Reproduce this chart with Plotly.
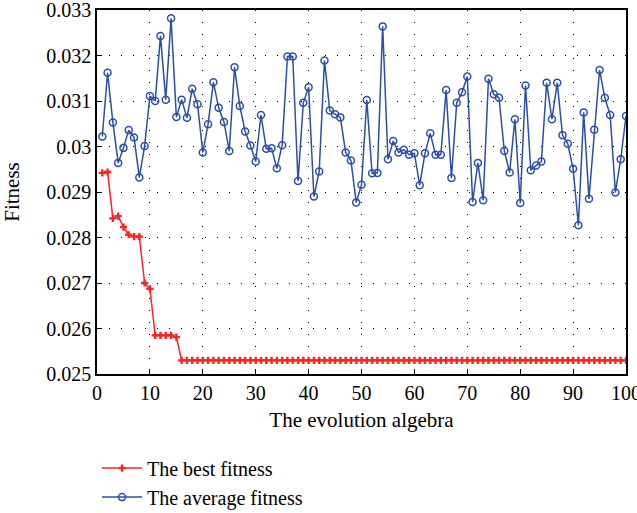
import plotly.graph_objects as go

generations = list(range(1, 101))

best_fitness = [0.02942, 0.02944, 0.02842, 0.02847, 0.02823, 0.02806, 0.02802, 0.02802,
                0.02700, 0.02687, 0.02585, 0.02585, 0.02585, 0.02585, 0.02581] + [0.02530] * 85

average_fitness = [
    0.03022, 0.03162, 0.03053, 0.02964, 0.02997, 0.03036, 0.03020, 0.02932, 0.03001, 0.03111,
    0.03100, 0.03243, 0.03103, 0.03282, 0.03065, 0.03103, 0.03063, 0.03127, 0.03093, 0.02987,
    0.03049, 0.03141, 0.03085, 0.03054, 0.02990, 0.03174, 0.03089, 0.03033, 0.03002, 0.02967,
    0.03069, 0.02995, 0.02996, 0.02952, 0.03003, 0.03198, 0.03198, 0.02924, 0.03096, 0.03130,
    0.02890, 0.02945, 0.03189, 0.03079, 0.03071, 0.03064, 0.02987, 0.02969, 0.02877, 0.02916,
    0.03102, 0.02941, 0.02942, 0.03264, 0.02972, 0.03012, 0.02987, 0.02993, 0.02982, 0.02985,
    0.02915, 0.02985, 0.03029, 0.02982, 0.02982, 0.03124, 0.02931, 0.03096, 0.03119, 0.03154,
    0.02878, 0.02964, 0.02882, 0.03149, 0.03115, 0.03107, 0.02990, 0.02943, 0.03060, 0.02876,
    0.03134, 0.02948, 0.02958, 0.02967, 0.03140, 0.03060, 0.03140, 0.03025, 0.03006, 0.02951,
    0.02827, 0.03075, 0.02885, 0.03037, 0.03168, 0.03107, 0.03069, 0.02899, 0.02972, 0.03067,
]

x_ticks = [0, 10, 20, 30, 40, 50, 60, 70, 80, 90, 100]
y_ticks = [0.025, 0.026, 0.027, 0.028, 0.029, 0.03, 0.031, 0.032, 0.033]
y_tick_text = ["0.025", "0.026", "0.027", "0.028", "0.029", "0.03", "0.031", "0.032", "0.033"]

FONT = "Liberation Serif, DejaVu Serif, serif"

fig = go.Figure()
fig.add_trace(go.Scatter(
    x=generations, y=best_fitness, mode="lines+markers", name="The best fitness",
    line=dict(color="#ff2222", width=1.5),
    marker=dict(symbol="cross", size=6, color="#ff2222"),
))
fig.add_trace(go.Scatter(
    x=generations, y=average_fitness, mode="lines+markers", name="The average fitness",
    line=dict(color="#2b4ea8", width=1.5),
    marker=dict(symbol="circle-open", size=7, color="#2b4ea8", line=dict(width=1.5)),
))

grid = dict(showgrid=True, gridcolor="black", gridwidth=1, griddash="1px,11px")

fig.update_xaxes(
    range=[0, 100], tickvals=x_ticks, ticks="inside", ticklen=5, tickcolor="black",
    showline=True, linecolor="black", linewidth=1.5, mirror=True, zeroline=False,
    automargin=False, ticklabeloverflow="allow",
    title=dict(text="The evolution algebra", font=dict(family=FONT, size=21, color="black"), standoff=10),
    tickfont=dict(family=FONT, size=20, color="black"), **grid,
)
fig.update_yaxes(
    range=[0.025, 0.033], tickvals=y_ticks, ticktext=y_tick_text, ticks="inside", ticklen=5,
    tickcolor="black", showline=True, linecolor="black", linewidth=1.5, mirror=True, zeroline=False,
    automargin=False, ticklabeloverflow="allow",
    title=dict(text="Fitness", font=dict(family=FONT, size=21, color="black"), standoff=22),
    tickfont=dict(family=FONT, size=20, color="black"), **grid,
)

fig.update_layout(
    width=637, height=513,
    margin=dict(l=97, r=11, t=10, b=139, autoexpand=False),
    plot_bgcolor="white", paper_bgcolor="white",
    font=dict(family=FONT, color="black"),
    legend=dict(x=0.0, y=-0.205, xanchor="left", yanchor="top",
                font=dict(family=FONT, size=20, color="black"),
                bgcolor="rgba(0,0,0,0)", tracegroupgap=0, itemwidth=40),
)

fig.write_html("out.html")
